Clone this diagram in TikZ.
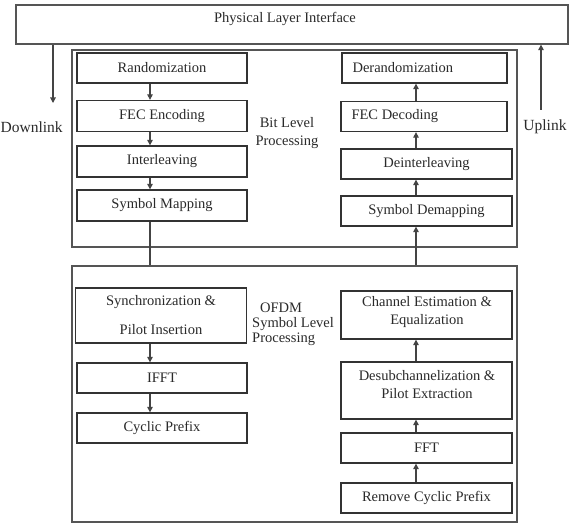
\documentclass[tikz,border=0pt]{standalone}
\usepackage{fontspec}
\setmainfont{Liberation Serif}
\usetikzlibrary{arrows.meta}
\definecolor{boxc}{HTML}{333333}
\definecolor{framec}{HTML}{555555}
\definecolor{linec}{HTML}{444444}
\definecolor{txt}{HTML}{2A2A2A}
\begin{document}
\begin{tikzpicture}[x=1pt,y=-1pt,
  box/.style={draw=boxc, line width=1.3pt, inner sep=0pt, font=\fontsize{14.5}{18}\selectfont, text=txt, align=center},
  frame/.style={draw=framec, line width=1.3pt, inner sep=0pt},
  lbl/.style={font=\fontsize{14.5}{18}\selectfont, text=txt, inner sep=0pt, align=center},
  arr/.style={draw=linec, line width=1.1pt, -{Triangle[length=5.5pt,width=5.5pt]}},
  ln/.style={draw=linec, line width=1.1pt}]
\useasboundingbox (0,0) rectangle (570,529);
\fill[white] (0,0) rectangle (570,529);

% frames
\node[frame, minimum width=552pt, minimum height=39pt] (top) at (292,24.5) {};
\node[lbl] (toptxt) at (285,19) {Physical Layer Interface};
\node[frame, minimum width=445pt, minimum height=197pt] (bitbox) at (294.5,148.5) {};
\node[frame, minimum width=445pt, minimum height=256pt] (ofdm) at (294.5,394) {};

% left column
\node[box, minimum width=170pt, minimum height=30pt] (rand) at (162,68) {Randomization};
\node[box, minimum width=170pt, minimum height=31pt] (fecenc) at (162,116) {FEC Encoding};
\node[box, minimum width=170pt, minimum height=31pt] (inter) at (162,161.5) {Interleaving};
\node[box, minimum width=170pt, minimum height=31pt] (symmap) at (162,205.5) {Symbol Mapping};
\node[box, minimum width=171pt, minimum height=55pt] (sync) at (161,315.5) {Synchronization \&\\[11pt]Pilot Insertion};
\node[box, minimum width=170pt, minimum height=30pt] (ifft) at (162,378) {IFFT};
\node[box, minimum width=170pt, minimum height=30pt] (cp) at (162,428) {Cyclic Prefix};

% right column
\node[box, minimum width=165pt, minimum height=30pt] (derand) at (424.5,68) {};
\node[lbl, anchor=west] (derandtxt) at ([xshift=11pt]derand.west) {Derandomization};
\node[box, minimum width=166pt, minimum height=30pt] (fecdec) at (424,116.5) {};
\node[lbl, anchor=west] (fecdectxt) at ([xshift=11pt]fecdec.west) {FEC Decoding};
\node[box, minimum width=171pt, minimum height=30pt] (deint) at (426.5,164) {Deinterleaving};
\node[box, minimum width=171pt, minimum height=30pt] (symdemap) at (426.5,211) {Symbol Demapping};
\node[box, minimum width=171pt, minimum height=48pt] (chan) at (426.5,315) {};
\node[lbl] (chantxt) at (427,312) {Channel Estimation \&\\Equalization};
\node[box, minimum width=171pt, minimum height=57pt] (desub) at (426.5,390.5) {};
\node[lbl] (desubtxt) at (427,384.5) {Desubchannelization \&\\Pilot Extraction};
\node[box, minimum width=171pt, minimum height=30pt] (fft) at (426.5,448) {FFT};
\node[box, minimum width=171pt, minimum height=30pt] (rcp) at (426.5,498) {Remove Cyclic Prefix};

% side labels
\node[lbl] (bitlbl) at (287,133) {Bit Level\\Processing};
\node[lbl, align=left, anchor=north west, font=\fontsize{14.5}{15}\selectfont] (ofdmlbl) at (252,303) {\hspace{8pt}OFDM\\Symbol Level\\Processing};
\node[lbl, anchor=west, font=\fontsize{15.5}{18}\selectfont] (dl) at (0.5,127) {Downlink};
\node[lbl, font=\fontsize{15.5}{18}\selectfont] (ul) at (545,127) {Uplink};

% axes for connectors
\coordinate (lx) at (150,0);
\coordinate (rx) at (416,0);
\coordinate (dlx) at (53,0);
\coordinate (dlend) at (53,103);
\coordinate (ulstart) at (541,110);

% connectors
\draw[arr] (top.south -| dlx) -- (dlend);
\draw[arr] (ulstart) -- (top.south -| ulstart);
\draw[arr] (rand.south -| lx) -- (fecenc.north -| lx);
\draw[arr] (fecenc.south -| lx) -- (inter.north -| lx);
\draw[arr] (inter.south -| lx) -- (symmap.north -| lx);
\draw[ln] (symmap.south -| lx) -- (ofdm.north -| lx);
\draw[arr] (sync.south -| lx) -- (ifft.north -| lx);
\draw[arr] (ifft.south -| lx) -- (cp.north -| lx);
\draw[arr] (rcp.north -| rx) -- (fft.south -| rx);
\draw[arr] (fft.north -| rx) -- (desub.south -| rx);
\draw[arr] (desub.north -| rx) -- (chan.south -| rx);
\draw[arr] (ofdm.north -| rx) -- (symdemap.south -| rx);
\draw[arr] (symdemap.north -| rx) -- (deint.south -| rx);
\draw[arr] (deint.north -| rx) -- (fecdec.south -| rx);
\draw[arr] (fecdec.north -| rx) -- (derand.south -| rx);
\end{tikzpicture}
\end{document}
